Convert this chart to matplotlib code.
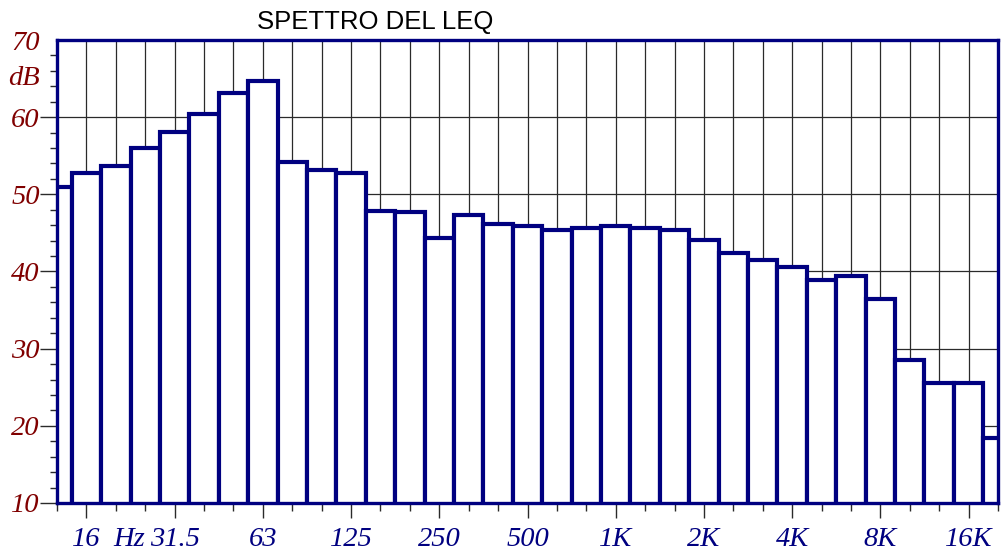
import numpy as np
import matplotlib
matplotlib.use("Agg")
import matplotlib.pyplot as plt
from matplotlib.ticker import FixedLocator, NullFormatter

# Bande di terzo d'ottava (Hz) e livelli Leq (dB)
bande = ["12.5", "16", "20", "25", "31.5", "40", "50", "63", "80", "100",
         "125", "160", "200", "250", "315", "400", "500", "630", "800", "1K",
         "1.25K", "1.6K", "2K", "2.5K", "3.15K", "4K", "5K", "6.3K", "8K",
         "10K", "12.5K", "16K", "20K"]
leq = [50.9, 52.7, 53.7, 56.0, 58.1, 60.4, 63.1, 64.7, 54.2, 53.1,
       52.8, 47.9, 47.7, 44.4, 47.3, 46.1, 45.9, 45.4, 45.6, 45.85,
       45.7, 45.35, 44.1, 42.4, 41.5, 40.6, 38.9, 39.4, 36.4,
       28.5, 25.5, 25.5, 18.4]
etichette_x = ["16", "31.5", "63", "125", "250", "500", "1K", "2K", "4K", "8K", "16K"]
etichette_y = [10, 20, 30, 40, 50, 60, 70]

BLU = "#000080"
ROSSO = "#800000"
GRIGIO = "#2a2a2a"
FS = 20.5

fig = plt.figure(figsize=(10.01, 5.53), dpi=100)
ax = fig.add_axes([57 / 1001, 50 / 553, 941 / 1001, 463 / 553])

idx = np.arange(len(bande))
ax.bar(idx, leq, width=1.0, color="white", edgecolor=BLU, linewidth=3.0, zorder=3)

ax.set_xlim(0, len(bande) - 1)
ax.set_ylim(10, 70)

# asse x: tick maggiori sulle bande d'ottava etichettate, minori sulle altre
maggiori = [bande.index(e) for e in etichette_x]
minori = [i for i in idx if i not in maggiori]
ax.xaxis.set_major_locator(FixedLocator(maggiori))
ax.xaxis.set_minor_locator(FixedLocator(minori))
ax.set_xticklabels(etichette_x)
ax.xaxis.set_minor_formatter(NullFormatter())
ax.tick_params(axis="x", which="major", length=11, width=1, color=GRIGIO, pad=6,
               labelsize=FS, labelcolor=BLU)
ax.tick_params(axis="x", which="minor", length=5.8, width=1, color=GRIGIO)
for t in ax.get_xticklabels():
    t.set_fontfamily("Liberation Serif")
    t.set_fontstyle("italic")

# asse y: etichette ogni 10 dB, tick minori ogni 2 dB
ax.yaxis.set_major_locator(FixedLocator(etichette_y))
ax.yaxis.set_minor_locator(FixedLocator([v for v in range(12, 70, 2) if v % 10]))
ax.yaxis.set_minor_formatter(NullFormatter())
ax.tick_params(axis="y", which="major", length=12, width=1, color=GRIGIO, pad=0.5,
               labelsize=FS, labelcolor=ROSSO)
ax.tick_params(axis="y", which="minor", length=5.2, width=1, color=GRIGIO)
for t in ax.get_yticklabels():
    t.set_fontfamily("Liberation Serif")
    t.set_fontstyle("italic")
ax.yaxis.get_major_ticks()[-1].tick1line.set_visible(False)

ax.grid(True, axis="x", which="both", color=GRIGIO, linewidth=0.9, zorder=1)
ax.grid(True, axis="y", which="major", color=GRIGIO, linewidth=0.9, zorder=1)
ax.set_axisbelow(True)

for lato in ["left", "right", "top", "bottom"]:
    ax.spines[lato].set_color(BLU)
    ax.spines[lato].set_linewidth(2.4)
    ax.spines[lato].set_zorder(4)

ax.annotate("dB", xy=(0, 65), xycoords=("axes fraction", "data"),
            xytext=(-12.5, 0), textcoords="offset points", ha="right", va="center",
            fontsize=FS, color=ROSSO, family="Liberation Serif", style="italic")
ax.annotate("Hz", xy=(2.45, 10), xycoords="data",
            xytext=(0, -17), textcoords="offset points", ha="center", va="top",
            fontsize=FS, color=BLU, family="Liberation Serif", style="italic")

fig.text(257 / 1001, 1 - 22 / 553, "SPETTRO DEL LEQ", ha="left", va="center",
         fontsize=18.5, family="Liberation Sans", color="black")

fig.savefig("out.png", dpi=100)
